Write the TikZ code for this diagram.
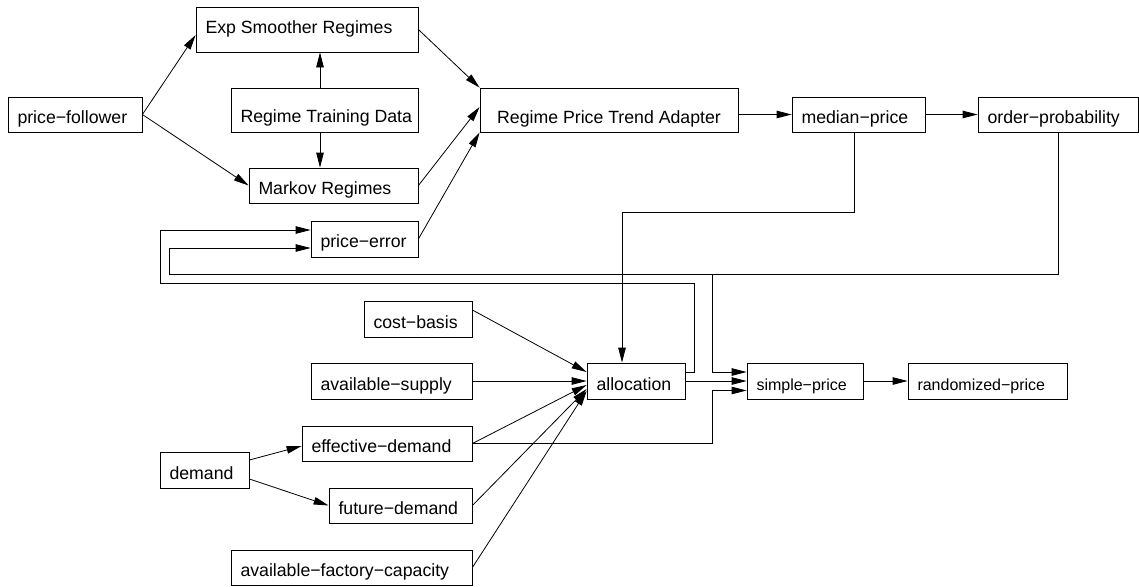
\documentclass[tikz,border=0pt]{standalone}
\usepackage{fontspec}
\setmainfont{Liberation Sans}
\usetikzlibrary{arrows.meta}

% left aligned label in a box of given outer width
\newcommand{\lbox}[2]{\makebox[\dimexpr#1-19pt\relax][l]{#2}}

\tikzset{
    blk/.style  = {draw, line width=0.8pt, inner xsep=9.5pt, inner ysep=0pt,
                   minimum height=35pt, text height=17pt, text depth=0pt},
    flow/.style = {line width=0.8pt, -{Triangle[length=15pt, width=7.5pt]}},
    wire/.style = {line width=0.8pt},
    small/.style = {font=\fontsize{16}{19}\selectfont},
}

\begin{document}
\begin{tikzpicture}[x=1pt, y=-1pt, font=\fontsize{17.7}{21}\selectfont]
    \useasboundingbox (0,0) rectangle (1139,586);

    % regime part
    \node[blk] (pf) at (75,114.5) {\lbox{134pt}{price−follower}};
    \node[blk, minimum height=45pt, text height=9pt] (exps) at (307,29.5) {\lbox{222pt}{Exp Smoother Regimes}};
    \node[blk, minimum height=44pt, text height=24pt] (rtd) at (324.5,110) {\lbox{187pt}{Regime Training Data}};
    \node[blk] (markov) at (333.5,185.5) {\lbox{169pt}{Markov Regimes}};
    \node[blk, minimum height=36pt] (perr) at (364.5,239) {\lbox{107pt}{price−error}};
    \node[blk, minimum width=258pt, minimum height=44pt, text height=26pt] (rpta) at (609,110) {Regime Price Trend Adapter};
    \node[blk] (median) at (858.5,114.5) {\lbox{133pt}{median−price}};
    \node[blk] (orderp) at (1058,114.5) {\lbox{160pt}{order−probability}};

    % allocation part
    \node[blk, minimum height=36pt, text height=18pt] (cost) at (418,319) {\lbox{108pt}{cost−basis}};
    \node[blk, minimum height=36pt, text height=18pt] (supply) at (391.5,381) {\lbox{161pt}{available−supply}};
    \node[blk, minimum height=36pt, text height=18pt] (alloc) at (636,381) {\lbox{98pt}{allocation}};
    \node[blk, small, minimum height=36pt, text height=18pt] (simple) at (805,381) {\lbox{116pt}{simple−price}};
    \node[blk, small, minimum height=36pt, text height=18pt] (rand) at (987.5,381) {\lbox{159pt}{randomized−price}};
    \node[blk, minimum height=36pt, text height=18pt] (demand) at (204.5,470) {\lbox{89pt}{demand}};
    \node[blk] (effd) at (387,443.5) {\lbox{170pt}{effective−demand}};
    \node[blk] (futd) at (400.5,505.5) {\lbox{143pt}{future−demand}};
    \node[blk] (afc) at (351.5,567.5) {\lbox{241pt}{available−factory−capacity}};

    % bends of the feedback lines
    \coordinate (tap) at (712,274);
    \coordinate (loopin) at (169,274);
    \coordinate (outr) at (694,283);
    \coordinate (outl) at (160,283);

    \draw[flow] (pf.east) -- ([yshift=-5.5pt]exps.west);
    \draw[flow] (pf.east) -- (markov.west);
    \draw[flow] ([xshift=-4.5pt]rtd.north) -- ([xshift=-4.5pt]rtd.north |- exps.south);
    \draw[flow] ([xshift=-4.5pt]rtd.south) -- ([xshift=-4.5pt]rtd.south |- markov.north);
    \draw[flow] (exps.east) -- (rpta.north west);
    \draw[flow] (markov.east) -- ([yshift=3pt]rpta.west);
    \draw[flow] (perr.east) -- (rpta.south west);
    \draw[flow] (rpta.east |- median.west) -- (median.west);
    \draw[flow] (median.east) -- (orderp.west);
    \draw[flow] ([xshift=-4.5pt]median.south) -- ++(0,80) -| ([xshift=-14pt]alloc.north);

    % order probability is fed back
    \draw[wire] (orderp.south) |- (tap);
    \draw[flow] (tap) -- (loopin) |- ([yshift=-9pt]perr.west);
    \draw[flow] (tap) |- ([yshift=9pt]simple.west);
    \draw[flow] ([yshift=9pt]alloc.east) -| (outr) -- (outl) |- ([yshift=9pt]perr.west);

    % inputs of the allocation
    \draw[flow] ([yshift=9pt]cost.east) -- ([yshift=9pt]alloc.west);
    \draw[flow] (supply.east) -- (alloc.west);
    \draw[flow] (effd.east) -- ([yshift=-4pt]alloc.west);
    \draw[flow] (futd.east) -- ([yshift=-8pt]alloc.west);
    \draw[flow] (afc.east) -- ([yshift=-10pt]alloc.west);
    \draw[flow] ([yshift=10pt]demand.east) -- ([yshift=-2.5pt]effd.west);
    \draw[flow] ([yshift=-9pt]demand.east) -- (futd.west);

    % pricing
    \draw[flow] (alloc.east) -- (simple.west);
    \draw[flow] (effd.east) -- (effd.east -| tap) |- ([yshift=-9.5pt]simple.west);
    \draw[flow] (simple.east) -- (rand.west);
\end{tikzpicture}
\end{document}
